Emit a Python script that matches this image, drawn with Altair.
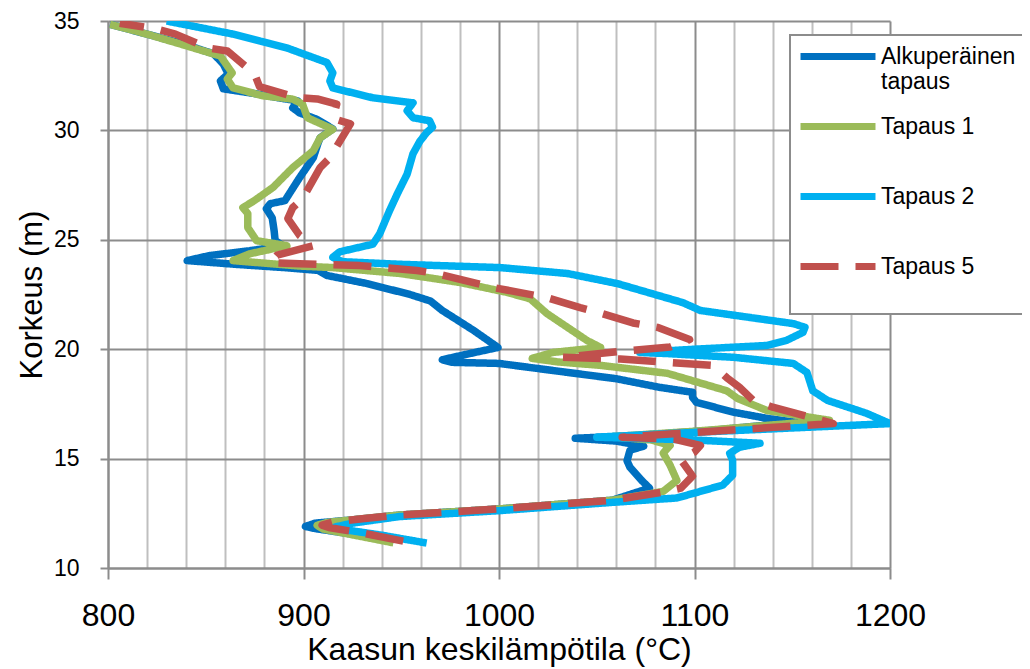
import altair as alt
import pandas as pd

series = ["Alkuperäinen tapaus", "Tapaus 1", "Tapaus 2", "Tapaus 5"]
colors = ["#0070C0", "#9BBB59", "#00B0F0", "#C0504D"]
dashes = [[1, 0], [1, 0], [1, 0], [38, 17]]

x_ticks = list(range(800, 1201, 20))
y_ticks = [10, 15, 20, 25, 30, 35]

alk_T = [946, 925, 906, 901, 906, 925, 949, 1000, 1058, 1077, 1073, 1067, 1065.5, 1067, 1074,
         1060, 1039, 1070, 1110, 1152, 1137, 1120, 1101, 1099, 1099, 1082, 1060, 1035, 1000, 976,
         971, 985, 999.5, 987, 971, 965, 954.5, 932.5, 912, 907.5, 890, 865, 840.5, 852, 872.5,
         889.5, 885.5, 885, 884, 881, 883, 890.5, 898, 905, 907.5, 908.5, 915, 907, 898, 894.5,
         897, 886.5, 876, 859, 857.5, 861.5, 859, 854, 838.5, 820, 801]
alk_H = [11.2, 11.55, 11.8, 11.9, 12.05, 12.2, 12.42, 12.7, 13.1, 13.65, 14.0, 14.6, 14.9, 15.38, 15.57,
         15.8, 15.93, 16.05, 16.3, 16.66, 16.84, 17.12, 17.57, 17.8, 18.03, 18.26, 18.65, 18.94, 19.35, 19.4,
         19.52, 19.8, 20.08, 20.86, 21.77, 22.2, 22.5, 23.0, 23.37, 23.6, 23.73, 23.88, 24.05, 24.28, 24.5,
         24.73, 24.96, 25.4, 26.0, 26.42, 26.65, 26.79, 27.84, 28.75, 29.43, 29.66, 30.07, 30.5, 30.8, 31.03,
         31.35, 31.5, 31.67, 31.9, 32.26, 32.58, 33.03, 33.5, 33.95, 34.4, 34.85]

t1_T = [946, 926, 910, 907, 912, 930, 949, 1000, 1058, 1084, 1091, 1087.5, 1084, 1087.5, 1078,
        1057, 1100, 1169, 1137, 1122, 1116.5, 1086, 1052, 1030, 1017, 1027.5, 1052, 1045, 1035, 1024.5,
        1016, 1004, 980, 949.5, 915, 898, 864, 872.5, 891.5, 876, 871.5, 871.5, 869, 875, 884.5,
        894.5, 905, 908.5, 915, 902, 899.5, 894.5, 879.5, 864, 861, 863.5, 857.5, 837, 820, 801]
t1_H = [11.15, 11.5, 11.78, 11.95, 12.08, 12.25, 12.42, 12.7, 13.1, 13.5, 14.0, 14.7, 15.25, 15.6, 15.85,
        16.0, 16.25, 16.75, 17.2, 17.75, 18.1, 18.9, 19.26, 19.42, 19.58, 19.85, 20.08, 20.4, 21.0, 21.63,
        22.3, 22.6, 23.05, 23.46, 23.73, 23.8, 24.05, 24.36, 24.73, 24.96, 25.56, 26.2, 26.47, 26.8, 27.4,
        28.3, 29.07, 29.66, 30.05, 30.58, 31.2, 31.43, 31.58, 31.94, 32.35, 32.63, 33.4, 33.95, 34.4, 34.85]

t2_T = [963, 940, 921, 916, 925, 949, 1000, 1058, 1091, 1114.5, 1119.5, 1119.5, 1118, 1123, 1133.5,
        1100, 1050, 1100, 1150, 1200, 1188, 1168, 1160.5, 1157.5, 1150.5, 1120, 1086, 1072, 1100, 1137,
        1147, 1155.5, 1156.5, 1150.5, 1103, 1094, 1060.5, 1035, 1000.5, 949.5, 920, 915, 918.5, 935.5, 939,
        944, 948, 953, 956, 959.5, 963, 966, 964.5, 956, 953, 956, 935.5, 915, 913.5, 915,
        912, 891.5, 864, 830]
t2_H = [11.14, 11.5, 11.75, 11.87, 12.05, 12.35, 12.62, 13.0, 13.2, 13.79, 14.24, 14.93, 15.24, 15.52, 15.7,
        15.85, 15.98, 16.2, 16.4, 16.6, 17.07, 17.66, 18.1, 18.94, 19.35, 19.63, 19.8, 19.85, 20.0, 20.17,
        20.4, 20.77, 21.0, 21.17, 21.77, 22.13, 23.0, 23.46, 23.73, 23.88, 24.0, 24.2, 24.45, 24.8, 25.28,
        26.33, 27.1, 28.0, 28.93, 29.5, 29.9, 30.15, 30.44, 30.58, 30.9, 31.26, 31.49, 31.94, 32.26, 32.63,
        33.1, 33.77, 34.4, 35.0]

t5_T = [951, 930, 913, 909.5, 915, 930, 949, 1000, 1058, 1084, 1093, 1099, 1093, 1100, 1103,
        1090, 1063, 1100, 1171, 1159, 1140, 1130, 1123, 1116.5, 1109.5, 1062, 1032.5, 1062, 1087.5, 1097.5,
        1081, 1068.5, 1052, 1041.5, 1024.5, 997, 968, 958, 929, 898, 883, 886.5, 905, 898, 892,
        894.5, 899.5, 908.5, 913.5, 924, 915, 917, 907, 896.5, 877.5, 875, 861, 851, 834.5, 825, 806]
t5_H = [11.23, 11.6, 11.85, 11.96, 12.1, 12.25, 12.42, 12.7, 13.1, 13.47, 13.65, 14.2, 14.95, 15.3, 15.6,
        15.88, 15.98, 16.2, 16.6, 16.9, 17.35, 17.66, 18.26, 18.7, 19.26, 19.55, 19.63, 19.9, 20.1, 20.44,
        21.0, 21.2, 21.65, 21.9, 22.36, 22.82, 23.46, 23.6, 23.82, 23.9, 23.96, 24.3, 24.73, 25.2, 25.97,
        26.47, 26.88, 28.3, 28.75, 30.3, 30.55, 31.2, 31.44, 31.5, 32.0, 32.58, 33.63, 33.77, 34.4, 34.63, 34.9]

rows = []
for name, T, H in zip(series, [alk_T, t1_T, t2_T, t5_T], [alk_H, t1_H, t2_H, t5_H]):
    for i, (t, h) in enumerate(zip(T, H)):
        rows.append({"sarja": name, "T": t, "H": h, "i": i})
df = pd.DataFrame(rows)

font = "Liberation Sans"
grid_major = "#8C8C8C"
grid_minor = "#BFBFBF"

legend = alt.Legend(
    title=None, orient="none", legendX=682, legendY=14, direction="vertical",
    symbolType="M-1.4667,0H8.5333", symbolSize=225, symbolStrokeWidth=7,
    labelOffset=58, labelFont=font, labelFontSize=23, labelColor="black",
    labelExpr="datum.value == 'Alkuperäinen tapaus' ? ['Alkuperäinen', 'tapaus'] : [datum.label, '']",
    labelLimit=400, padding=10, strokeColor=grid_major, fillColor="white", rowPadding=18,
)

x_axis = alt.Axis(
    values=x_ticks, format="d", title="Kaasun keskilämpötila (°C)", grid=True,
    gridColor={"condition": {"test": "datum.value % 100 === 0", "value": grid_major}, "value": grid_minor},
    gridWidth=2,
    tickColor={"condition": {"test": "datum.value % 100 === 0", "value": grid_major}, "value": "transparent"},
    tickSize=11, tickWidth=2,
    labelExpr="datum.value % 100 === 0 ? datum.label : ''",
    labelFont=font, labelFontSize=32, labelColor="black", labelPadding=21,
    labelFlush=False, labelOverlap=False,
    domainColor=grid_major, domainWidth=2,
    titleFont=font, titleFontSize=32, titleFontWeight="normal", titleColor="black", titlePadding=3,
)
y_axis = alt.Axis(
    values=y_ticks, format="d", title="Korkeus (m)", grid=True,
    gridColor=grid_major, gridWidth=2, tickColor=grid_major, tickSize=8, tickWidth=2,
    labelFont=font, labelFontSize=23, labelColor="black", labelPadding=21,
    labelFlush=False, labelOverlap=False,
    domainColor=grid_major, domainWidth=2,
    titleFont=font, titleFontSize=31, titleFontWeight="normal", titleColor="black", titlePadding=5,
)

chart = alt.Chart(df).mark_line(
    strokeWidth=7.5, strokeCap="butt", strokeJoin="round", clip=True
).encode(
    x=alt.X("T:Q", scale=alt.Scale(domain=[800, 1200], nice=False, zero=False), axis=x_axis),
    y=alt.Y("H:Q", scale=alt.Scale(domain=[10, 35], nice=False, zero=False), axis=y_axis),
    color=alt.Color("sarja:N", scale=alt.Scale(domain=series, range=colors), legend=legend),
    strokeDash=alt.StrokeDash("sarja:N", scale=alt.Scale(domain=series, range=dashes), legend=legend),
    order=alt.Order("i:Q"),
).properties(
    width=782, height=547,
    autosize=alt.AutoSizeParams(type="none"),
    padding={"left": 100, "top": 13, "right": 132, "bottom": 101},
).configure_view(strokeWidth=0).configure_legend(strokeWidth=2)

chart.save("out.html", embed_options={"renderer": "svg", "actions": False})
